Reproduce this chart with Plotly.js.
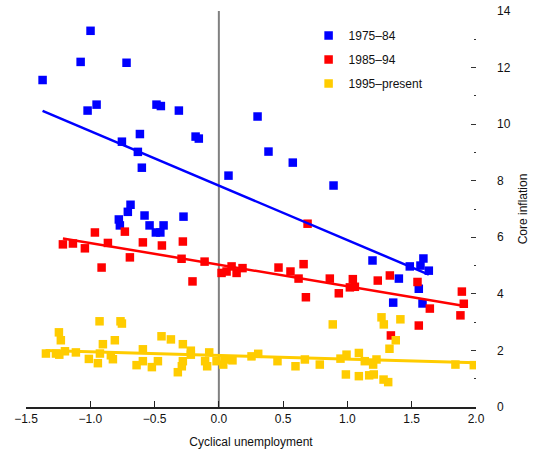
<!DOCTYPE html>
<html>
<head>
<meta charset="utf-8">
<script src="https://cdn.plot.ly/plotly-3.0.1.min.js"></script>
<style>html,body{margin:0;padding:0;background:#fff;}#chart{width:533px;height:459px;}</style>
</head>
<body>
<div id="chart"></div>
<script>
// Series names
const seriesNames = ["1975–84", "1985–94", "1995–present"];

// 1975–84
const blueX = [-0.998,-1.075,-0.718,-1.371,-0.951,-1.021,-0.485,-0.451,-0.311,0.301,-0.614,-0.754,-0.181,-0.156,-0.630,0.386,-0.599,0.075,0.575,0.892,-0.687,-0.708,-0.778,-0.770,-0.578,-0.275,-0.539,-0.430,-0.490,-0.455,1.195,1.400,1.356,1.485,1.568,1.591,1.633,1.555,1.584];
const blueY = [13.30,12.20,12.17,11.56,10.69,10.48,10.69,10.64,10.48,10.27,9.65,9.38,9.56,9.49,9.02,9.03,8.46,8.18,8.64,7.83,7.15,6.90,6.63,6.42,6.77,6.73,6.42,6.42,6.17,6.17,5.18,4.54,3.69,4.97,5.00,5.25,4.82,4.18,3.66];

// 1985–94
const redX = [-0.964,-0.731,-1.213,-1.135,-1.042,-0.863,-0.591,-0.443,-0.280,-0.692,-0.290,-0.111,-0.912,-0.205,0.021,0.060,0.099,0.138,0.184,0.464,0.557,0.620,0.659,0.677,0.690,0.863,0.933,1.019,1.042,1.058,1.236,1.330,1.338,1.545,1.555,1.641,1.890,1.905,1.879];
const redY = [6.17,6.20,5.75,5.78,5.61,5.80,5.82,5.71,5.85,5.29,5.24,5.14,4.93,4.44,4.74,4.79,4.97,4.74,4.91,4.93,4.79,4.54,5.05,3.88,6.48,4.54,4.02,4.23,4.52,4.25,4.47,4.65,2.53,4.42,2.88,3.48,4.08,3.65,3.24];

// 1995–present
const yellowX = [-1.345,-1.244,-1.229,-1.267,-1.241,-1.197,-1.112,-0.928,-1.011,-0.941,-0.925,-0.902,-0.840,-0.824,-0.809,-0.765,-0.754,-0.591,-0.640,-0.591,-0.521,-0.474,-0.446,-0.373,-0.319,-0.288,-0.280,-0.280,-0.218,-0.218,-0.107,-0.091,-0.075,-0.018,0.034,0.047,0.106,0.254,0.306,0.456,0.596,0.669,0.785,0.886,0.946,0.993,0.988,1.089,1.089,1.135,1.169,1.205,1.200,1.226,1.265,1.283,1.281,1.317,1.327,1.376,1.412,1.840,1.983];
const yellowY = [1.89,2.64,2.36,1.89,1.85,1.97,1.93,3.03,1.70,1.55,1.89,2.22,1.83,1.69,2.36,3.03,2.95,2.04,1.48,1.62,1.41,1.62,2.50,2.39,1.23,1.44,1.62,2.22,1.99,1.85,1.62,1.44,1.93,1.62,1.50,1.68,1.65,1.79,1.88,1.62,1.44,1.68,1.50,2.92,1.71,1.85,1.15,1.91,1.09,1.62,1.12,1.15,1.50,1.68,3.17,2.92,0.97,0.88,2.06,2.36,3.10,1.50,1.48];

// Fitted trend lines (endpoints)
const blueFitX = [-1.371, 1.633];
const blueFitY = [10.47, 4.68];
const redFitX = [-1.213, 1.887];
const redFitY = [5.96, 3.59];
const yellowFitX = [-1.348, 2.0];
const yellowFitY = [2.00, 1.56];

// Axis ticks
const xTickVals = [-1.5, -1.0, -0.5, 0, 0.5, 1.0, 1.5, 2.0];
const xTickText = ["−1.5", "−1.0", "−0.5", "0.0", "0.5", "1.0", "1.5", "2.0"];
const yTickVals = [0, 2, 4, 6, 8, 10, 12, 14];

const colors = ["#0000FF", "#FF0000", "#FFCC00"];
const FONT = "Liberation Sans, Arial, sans-serif";
const TXT = "#111";

function pts(x, y, i) {
  return {x: x, y: y, type: "scatter", mode: "markers", name: seriesNames[i],
    legendgroup: "g" + i,
    marker: {symbol: "square", size: 8.5, color: colors[i], line: {width: 0}},
    hoverinfo: "skip"};
}
function fit(x, y, i, w) {
  return {x: x, y: y, type: "scatter", mode: "lines", showlegend: false,
    legendgroup: "g" + i, line: {color: colors[i], width: w}, hoverinfo: "skip"};
}

const data = [
  pts(blueX, blueY, 0), pts(redX, redY, 1), pts(yellowX, yellowY, 2),
  fit(blueFitX, blueFitY, 0, 2.5), fit(redFitX, redFitY, 1, 2.5), fit(yellowFitX, yellowFitY, 2, 3)
];

const layout = {
  width: 533, height: 459,
  margin: {l: 26, r: 57, t: 11, b: 51.5},
  paper_bgcolor: "#fff", plot_bgcolor: "#fff",
  font: {family: FONT, size: 12, color: TXT},
  showlegend: true,
  legend: {x: 0.628, y: 0.975, xanchor: "left", yanchor: "top",
    bgcolor: "rgba(0,0,0,0)", borderwidth: 0, traceorder: "grouped", tracegroupgap: 5,
    font: {family: FONT, size: 12, color: TXT}},
  xaxis: {range: [-1.5, 2.0], tickvals: xTickVals, ticktext: xTickText,
    showgrid: false, zeroline: false, showline: true, linecolor: "#222", linewidth: 1.5,
    ticks: "inside", ticklen: 6, tickcolor: "#222", tickwidth: 1,
    tickfont: {family: FONT, size: 12, color: TXT},
    title: {text: "Cyclical unemployment", font: {family: FONT, size: 12, color: TXT}, standoff: 12}},
  yaxis: {range: [0, 14], side: "right", tickvals: yTickVals,
    showgrid: false, zeroline: false, showline: false,
    ticks: "inside", ticklen: 5, tickcolor: "#333", tickwidth: 1,
    ticklabelstandoff: 20,
    minor: {dtick: 1, ticks: "inside", ticklen: 2, tickcolor: "#333", showgrid: false},
    tickfont: {family: FONT, size: 12, color: TXT},
    title: {text: "Core inflation", font: {family: FONT, size: 12, color: TXT}, standoff: 8}},
  shapes: [{type: "line", xref: "x", yref: "paper", x0: 0, x1: 0, y0: 0, y1: 1,
    line: {color: "#808080", width: 2}, layer: "below"}]
};

Plotly.newPlot("chart", data, layout, {staticPlot: true, displayModeBar: false});
</script>
</body>
</html>
